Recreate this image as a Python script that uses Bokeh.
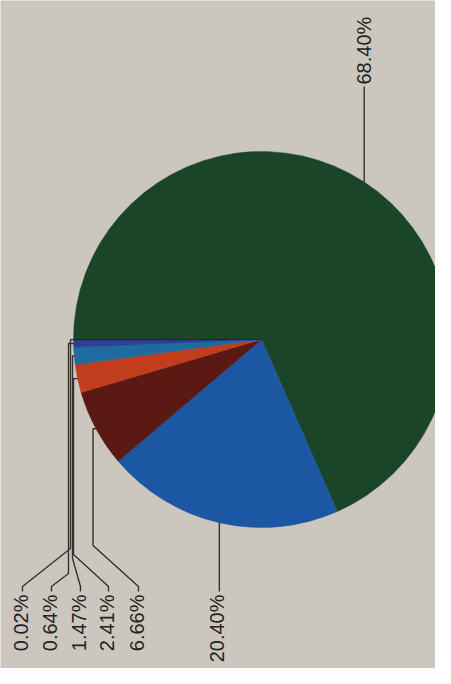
import math
from bokeh.plotting import figure
from bokeh.models import Range1d, ColumnDataSource
from bokeh.core.properties import value
from bokeh.embed import file_html
from bokeh.resources import INLINE

# ---- data ----
shares = [68.40, 20.40, 6.66, 2.41, 1.47, 0.64, 0.02]
labels = [f"{v:.2f}%" for v in shares]
colors = ["#1b4529", "#1b57a2", "#5a1913", "#c23d1d", "#1f6a9e", "#2b3f98", "#1a1a1a"]

# ---- layout (screen-like coordinates, y measured from top) ----
W, H = 435, 668
CX, CY_S, R = 261, 339, 188
def sy(s):
    return H - s
CY = sy(CY_S)

p = figure(width=W, height=H, output_backend="svg", toolbar_location=None,
           x_range=Range1d(0, W), y_range=Range1d(0, H),
           min_border=0)
p.axis.visible = False
p.grid.visible = False
p.outline_line_color = None
p.background_fill_color = "#cbc7bf"
p.border_fill_color = "#cbc7bf"

# wedges (start at 9 o'clock, clockwise)
starts, ends, mids = [], [], []
cum = 0.0
for v in shares:
    a0 = math.radians(180 - cum * 3.6)
    cum += v
    a1 = math.radians(180 - cum * 3.6)
    starts.append(a0)
    ends.append(a1)
    mids.append((a0 + a1) / 2)

src = ColumnDataSource(dict(x=[CX] * len(shares), y=[CY] * len(shares),
                            start=starts, end=ends, color=colors))
p.wedge(x="x", y="y", radius=R, start_angle="start", end_angle="end",
        direction="clock", fill_color="color", line_color="color", line_width=0.5,
        source=src)

edge = [(CX + R * math.cos(a), CY + R * math.sin(a)) for a in mids]

xs, ys = [], []
tx, ty, tt, talign = [], [], [], []

TOP_Y = 594  # where bottom labels start (screen y)

# 68.40% : straight up
ex, ey = edge[0]
xs.append([ex, ex]); ys.append([ey, sy(86)])
tx.append(ex); ty.append(sy(84)); tt.append(labels[0]); talign.append("left")

# 20.40% : straight down
ex, ey = edge[1]
xs.append([ex, ex]); ys.append([ey, sy(TOP_Y - 3)])
tx.append(ex - 2); ty.append(sy(TOP_Y)); tt.append(labels[1]); talign.append("right")

# small slices: bundled leaders to the bottom-left
label_x = {2: 136, 3: 106, 4: 78, 5: 49, 6: 20}
vert_x = {3: 73, 4: 72, 5: 68, 6: 70}
elbow_y = {2: 545, 3: 554, 4: 558, 5: 573, 6: 548}
for i in [2, 3, 4, 5, 6]:
    ex, ey = edge[i]
    vx = ex - 3 if i == 2 else vert_x[i]
    lx = label_x[i]
    xs.append([ex, vx, vx, lx + 2, lx + 2])
    ys.append([ey, ey, sy(elbow_y[i]), sy(TOP_Y - 8), sy(TOP_Y - 3)])
    tx.append(lx); ty.append(sy(TOP_Y)); tt.append(labels[i]); talign.append("right")

p.multi_line(xs=xs, ys=ys, line_color="#34322f", line_width=1.4)

tsrc = ColumnDataSource(dict(x=tx, y=ty, text=tt, align=talign))
p.text(x="x", y="y", text="text", source=tsrc, angle=math.pi / 2,
       text_align="align", text_baseline="middle",
       text_font=value("Liberation Sans"), text_font_size="20px",
       text_color="#242321")

open("out.html", "w").write(file_html(p, INLINE))
